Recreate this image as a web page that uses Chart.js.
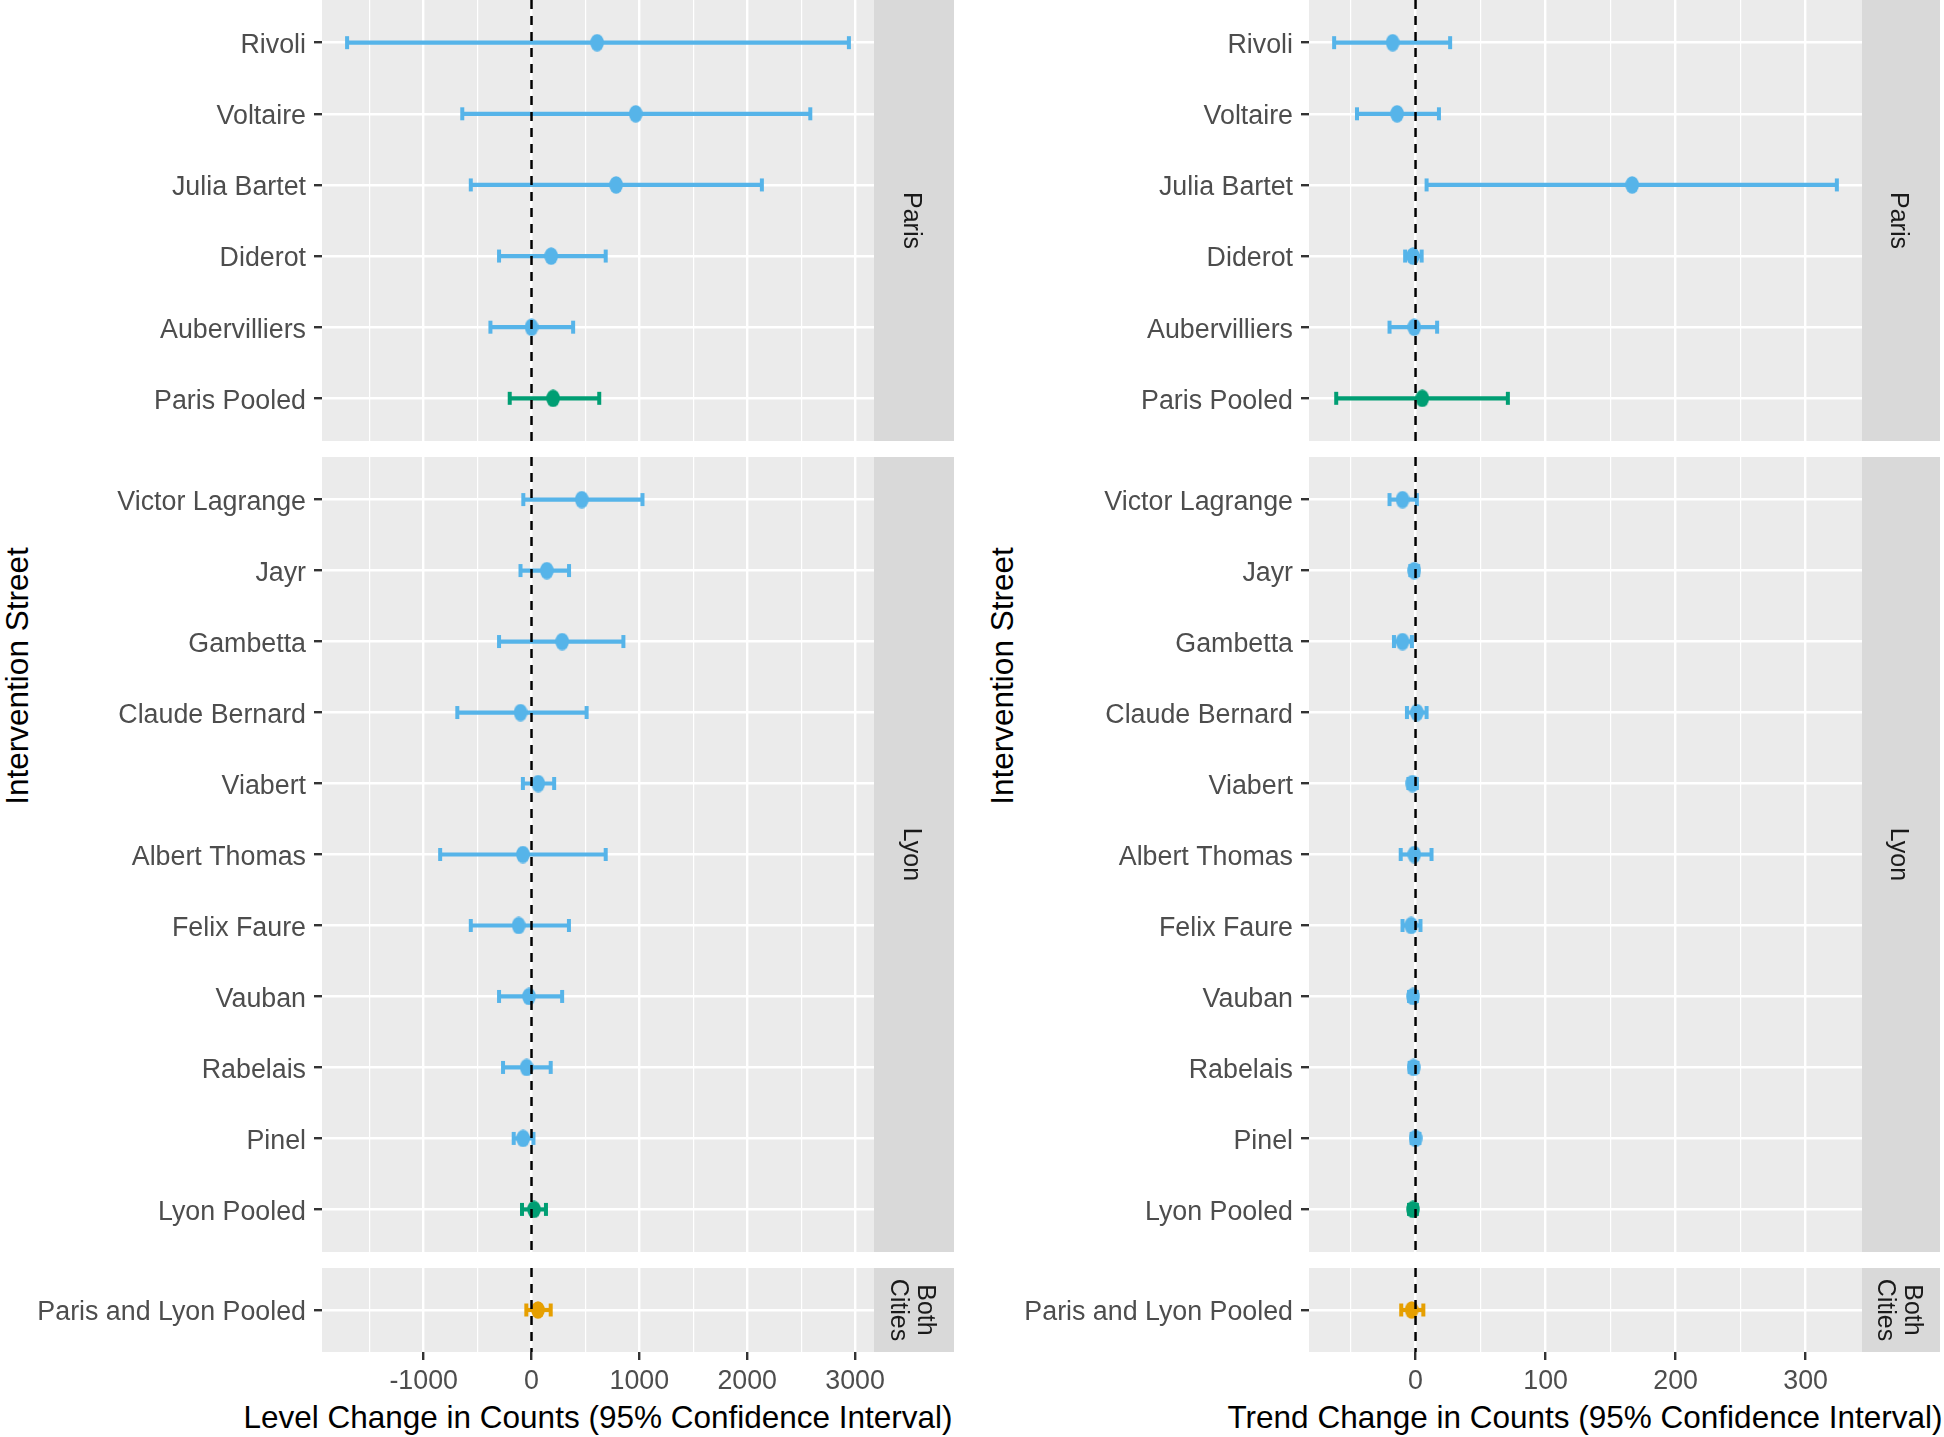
<!DOCTYPE html>
<html>
<head>
<meta charset="utf-8">
<script src="https://cdn.jsdelivr.net/npm/chart.js@4.4.1/dist/chart.umd.min.js"></script>
<style>
html, body { margin:0; padding:0; background:#ffffff; width:1944px; height:1437px; overflow:hidden; }
canvas { position:absolute; }
.ytitle, .xtitle { position:absolute; font-family:"Liberation Sans", Arial, sans-serif; font-size:31.5px; color:#000; white-space:nowrap; line-height:1; }
.ytitle { transform: translate(-50%, -50%) rotate(-90deg); }
.xtitle { transform: translate(-50%, -50%); }
</style>
</head>
<body>
<div class="ytitle" style="left:17.5px; top:676px;">Intervention Street</div>
<div class="ytitle" style="left:1003px; top:676px;">Intervention Street</div>
<div class="xtitle" id="xt0" style="left:598px; top:1418px;"></div>
<div class="xtitle" id="xt1" style="left:1585px; top:1418px;"></div>
<script>
// ---------------- DATA ----------------
const parisStreets = ['Rivoli', 'Voltaire', 'Julia Bartet', 'Diderot', 'Aubervilliers', 'Paris Pooled'];
const lyonStreets = ['Victor Lagrange', 'Jayr', 'Gambetta', 'Claude Bernard', 'Viabert', 'Albert Thomas',
                     'Felix Faure', 'Vauban', 'Rabelais', 'Pinel', 'Lyon Pooled'];
const bothStreets = ['Paris and Lyon Pooled'];

const parisGroups = ['street', 'street', 'street', 'street', 'street', 'city'];
const lyonGroups = ['street', 'street', 'street', 'street', 'street', 'street', 'street', 'street', 'street', 'street', 'city'];
const bothGroups = ['both'];

const stripLabels = ['Paris', 'Lyon', 'Both\nCities'];

// Level change (left panel)
const levelParisEst = [608, 966, 784, 182, 0, 200];
const levelParisLo  = [-1710, -642, -563, -301, -381, -202];
const levelParisHi  = [2943, 2585, 2136, 688, 386, 628];
const levelLyonEst  = [466, 142, 284, -102, 62, -80, -119, -23, -45, -78, 23];
const levelLyonLo   = [-76, -102, -301, -688, -80, -847, -563, -301, -264, -165, -88];
const levelLyonHi   = [1029, 348, 852, 511, 210, 688, 347, 284, 178, 18, 134];
const levelBothEst  = [60];
const levelBothLo   = [-48];
const levelBothHi   = [178];

// Trend change (right panel)
const trendParisEst = [-17.6, -14.2, 166.6, -2, -1, 5.2];
const trendParisLo  = [-62.6, -45, 8.5, -8, -20, -61];
const trendParisHi  = [26.6, 18, 324, 4.7, 16.6, 71];
const trendLyonEst  = [-10, -1, -10, 1, -2.4, -1, -3.3, -2, -1.5, 0, -2];
const trendLyonLo   = [-20, -4, -16.6, -6.6, -5.5, -11.4, -10, -5, -4.5, -3, -5];
const trendLyonHi   = [1, 2, -2.8, 8.5, 1, 12.3, 3.8, 1, 1.5, 3, 1];
const trendBothEst  = [-3];
const trendBothLo   = [-11];
const trendBothHi   = [6];

const levelTicks = [-1000, 0, 1000, 2000, 3000];
const trendTicks = [0, 100, 200, 300];

const levelAxisTitle = 'Level Change in Counts (95% Confidence Interval)';
const trendAxisTitle = 'Trend Change in Counts (95% Confidence Interval)';

// ---------------- STYLE / LAYOUT ----------------
const FONT = '"Liberation Sans", Arial, Helvetica, sans-serif';
const COLORS = { street: '#56B4E9', city: '#009E73', both: '#E69F00' };

document.getElementById('xt0').textContent = levelAxisTitle;
document.getElementById('xt1').textContent = trendAxisTitle;

const facets = [
  { strip: stripLabels[0], labels: parisStreets, groups: parisGroups,
    level: { est: levelParisEst, lo: levelParisLo, hi: levelParisHi },
    trend: { est: trendParisEst, lo: trendParisLo, hi: trendParisHi },
    top: 0, height: 441, axis: false },
  { strip: stripLabels[1], labels: lyonStreets, groups: lyonGroups,
    level: { est: levelLyonEst, lo: levelLyonLo, hi: levelLyonHi },
    trend: { est: trendLyonEst, lo: trendLyonLo, hi: trendLyonHi },
    top: 457, height: 795, axis: false },
  { strip: stripLabels[2], labels: bothStreets, groups: bothGroups,
    level: { est: levelBothEst, lo: levelBothLo, hi: levelBothHi },
    trend: { est: trendBothEst, lo: trendBothLo, hi: trendBothHi },
    top: 1268, height: 169, axis: true }
];

const sides = [
  { key: 'level', left: 0, width: 954, strip: 80, majors: levelTicks },
  { key: 'trend', left: 987, width: 953, strip: 78, majors: trendTicks }
];

function markerCanvas(color) {
  const c = document.createElement('canvas');
  c.width = 14; c.height = 18;
  const g = c.getContext('2d');
  g.fillStyle = color;
  g.beginPath();
  g.ellipse(7, 9, 6.8, 8.7, 0, 0, Math.PI * 2);
  g.fill();
  return c;
}
const MARKERS = {};
Object.keys(COLORS).forEach(k => MARKERS[k] = markerCanvas(COLORS[k]));

const panelPlugin = {
  id: 'panelBg',
  beforeDraw(chart, args, opts) {
    const { ctx, chartArea: a } = chart;
    ctx.save();
    ctx.fillStyle = '#EBEBEB';
    ctx.fillRect(a.left, a.top, a.right - a.left, a.bottom - a.top);
    ctx.fillStyle = '#D9D9D9';
    ctx.fillRect(a.right, a.top, opts.stripWidth, a.bottom - a.top);
    ctx.fillStyle = '#1A1A1A';
    ctx.font = '25px ' + FONT;
    ctx.textAlign = 'center';
    ctx.textBaseline = 'middle';
    const lines = opts.text.split('\n');
    const lh = 27;
    ctx.translate(a.right + opts.stripWidth / 2 - 3, (a.top + a.bottom) / 2);
    ctx.rotate(Math.PI / 2);
    lines.forEach((t, i) => ctx.fillText(t, 0, (i - (lines.length - 1) / 2) * lh));
    ctx.restore();
  }
};

function noPad(s) { s.paddingTop = 0; s.paddingBottom = 0; s.paddingLeft = 0; s.paddingRight = 0; }

sides.forEach(side => {
  // x range from the data with 5% expansion (like ggplot)
  let mn = Infinity, mx = -Infinity;
  facets.forEach(f => { f[side.key].lo.forEach(v => mn = Math.min(mn, v)); f[side.key].hi.forEach(v => mx = Math.max(mx, v)); });
  const pad = (mx - mn) * 0.05;
  const xmin = mn - pad, xmax = mx + pad;
  const majorStep = side.majors[1] - side.majors[0];
  const minorStep = majorStep / 2;
  const isMajor = v => side.majors.some(m => Math.abs(m - v) < 1e-6);

  facets.forEach(f => {
    const d = f[side.key];
    const n = f.labels.length;
    const ymin = -0.6, ymax = n - 1 + 0.6;
    const canvas = document.createElement('canvas');
    canvas.width = side.width; canvas.height = f.height;
    canvas.style.left = side.left + 'px'; canvas.style.top = f.top + 'px';
    canvas.style.width = side.width + 'px'; canvas.style.height = f.height + 'px';
    document.body.appendChild(canvas);

    const datasets = [];
    datasets.push({
      type: 'line', label: 'zero', data: [{ x: 0, y: ymin }, { x: 0, y: ymax }],
      borderColor: '#000000', borderWidth: 2.5, borderDash: [9, 7], pointRadius: 0, order: 0
    });
    datasets.push({
      type: 'line', label: 'estimate', showLine: false,
      data: d.est.map((v, i) => ({ x: v, y: i })),
      pointStyle: f.groups.map(g => MARKERS[g]), pointRadius: 7, order: 1
    });
    f.labels.forEach((lab, i) => {
      const col = COLORS[f.groups[i]];
      datasets.push({
        type: 'line', label: lab,
        data: [{ x: d.lo[i], y: i }, { x: d.hi[i], y: i }],
        borderColor: col, borderWidth: 4.2,
        pointStyle: 'line', pointRotation: 90, pointRadius: 6.5,
        pointBorderWidth: 4, pointBorderColor: col, pointBackgroundColor: col, order: 2
      });
    });

    new Chart(canvas, {
      type: 'line',
      data: { datasets },
      plugins: [panelPlugin],
      options: {
        responsive: false, animation: false, devicePixelRatio: 1,
        events: [],
        layout: { autoPadding: false, padding: { left: 0, right: side.strip, top: 0, bottom: 0 } },
        plugins: { legend: { display: false }, tooltip: { enabled: false },
          panelBg: { stripWidth: side.strip, text: f.strip } },
        scales: {
          x: {
            type: 'linear', min: xmin, max: xmax,
            afterBuildTicks: s => {
              const t = [];
              for (let v = Math.ceil(xmin / minorStep) * minorStep; v <= xmax + 1e-9; v += minorStep) t.push({ value: v });
              s.ticks = t;
            },
            afterFit: s => { s.height = f.axis ? f.height - 84 : 0; noPad(s); },
            border: { display: false },
            grid: {
              color: '#FFFFFF',
              lineWidth: c => (c.tick && isMajor(c.tick.value)) ? 2.4 : 1.2,
              drawTicks: f.axis, tickLength: 8, tickWidth: 2.4,
              tickColor: c => (c.tick && isMajor(c.tick.value)) ? '#333333' : 'rgba(0,0,0,0)'
            },
            ticks: {
              display: f.axis, padding: 6, color: '#4D4D4D', autoSkip: false, maxRotation: 0,
              font: { family: FONT, size: 26.8 },
              callback: v => isMajor(v) ? String(Math.round(v)) : ''
            },
            title: { display: false }
          },
          y: {
            type: 'linear', reverse: true, min: ymin, max: ymax,
            afterBuildTicks: s => { s.ticks = f.labels.map((_, i) => ({ value: i })); },
            afterFit: s => { s.width = 322; noPad(s); },
            border: { display: false },
            grid: { color: '#FFFFFF', lineWidth: 2.4, drawTicks: true, tickLength: 8, tickWidth: 2.4, tickColor: '#333333' },
            ticks: {
              padding: 8, labelOffset: 3, color: '#4D4D4D', autoSkip: false,
              font: { family: FONT, size: 26.8 },
              callback: v => f.labels[v] !== undefined ? f.labels[v] : ''
            }
          }
        }
      }
    });
  });
});
</script>
</body>
</html>
